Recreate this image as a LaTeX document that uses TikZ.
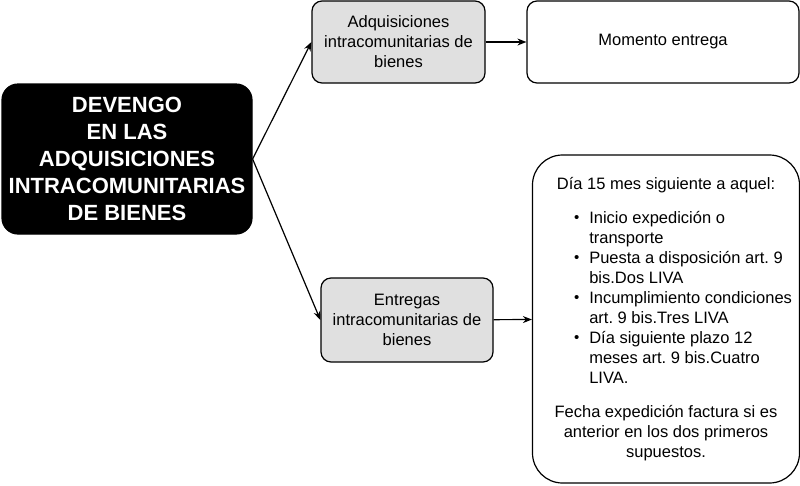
\documentclass[tikz,border=0pt]{standalone}
\usepackage{fontspec}
\setmainfont{Liberation Sans}
\usetikzlibrary{arrows.meta}
\frenchspacing

\definecolor{boxgray}{HTML}{E0E0E0}

\newcommand{\dotmark}{\raisebox{0.5pt}{\fontsize{15}{15}\selectfont\textbullet}}

\tikzset{
  box/.style={draw, line width=1.2pt, rounded corners=10pt, align=center,
    font=\fontsize{16.5}{20}\selectfont, inner sep=2pt},
  graybox/.style={box, fill=boxgray},
  link/.style={line width=1.2pt, -{Stealth[length=9pt,width=7pt]}}
}

\begin{document}
\begin{tikzpicture}[x=1pt,y=-1pt]
    \useasboundingbox (0,0) rectangle (800,485);

    % root
    \node[box, fill=black, text=white, rounded corners=16pt,
          minimum width=250pt, minimum height=150pt,
          font=\fontsize{22}{27}\selectfont\bfseries] (root) at (127,159)
          {DEVENGO\\EN LAS\\ADQUISICIONES\\INTRACOMUNITARIAS\\DE BIENES};

    % first branch
    \node[graybox, minimum width=173pt, minimum height=82pt] (adq) at (398.5,42)
          {Adquisiciones\\intracomunitarias de\\bienes};
    \node[box, minimum width=272pt, minimum height=82pt] (mom) at (663,42)
          {Momento entrega};

    % second branch
    \node[graybox, minimum width=172pt, minimum height=84pt] (ent) at (407,320)
          {Entregas\\intracomunitarias de\\bienes};
    \node[box, rounded corners=30pt, minimum width=267pt, minimum height=328pt] (plazo) at (666,319)
          {D\'ia 15 mes siguiente a aquel:\\[15pt]
           \hspace*{34pt}\begin{tabular}{@{}l@{\hspace{10pt}}l@{}}
             \dotmark & Inicio expedici\'on o\\
                      & transporte\\
             \dotmark & Puesta a disposici\'on art. 9\\
                      & bis.Dos LIVA\\
             \dotmark & Incumplimiento condiciones\\
                      & art. 9 bis.Tres LIVA\\
             \dotmark & D\'ia siguiente plazo 12\\
                      & meses art. 9 bis.Cuatro\\
                      & LIVA.
           \end{tabular}\\[15pt]
           Fecha expedici\'on factura si es\\
           anterior en los dos primeros\\
           supuestos.};

    % connectors
    \draw[link] (root.east) -- (adq.west);
    \draw[link] (root.east) -- (ent.west);
    \draw[link] (adq) -- (mom);
    \draw[link] (ent) -- (plazo);
\end{tikzpicture}
\end{document}
